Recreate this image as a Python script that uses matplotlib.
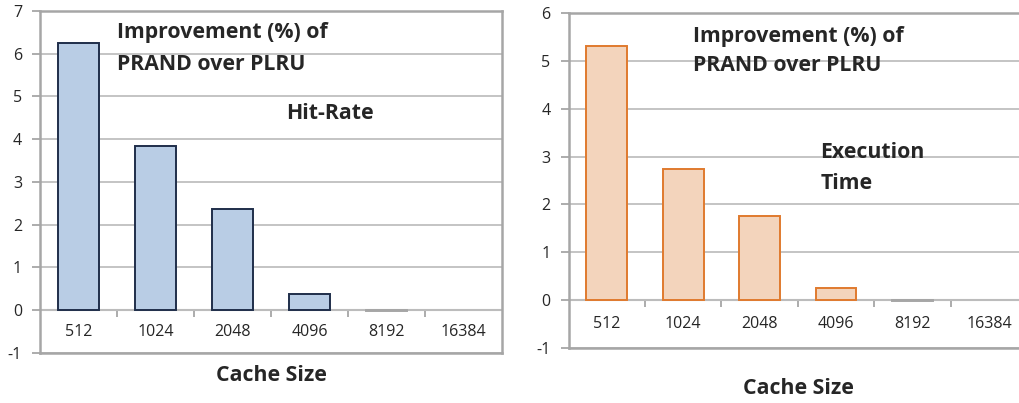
import matplotlib
matplotlib.use("Agg")
import matplotlib.pyplot as plt

# Data
cache_sizes = ["512", "1024", "2048", "4096", "8192", "16384"]
hit_rate_improvement = [6.25, 3.84, 2.36, 0.37, -0.01, 0.0]
exec_time_improvement = [5.31, 2.73, 1.75, 0.26, -0.02, 0.0]

FONT = ["Open Sans", "DejaVu Sans"]
plt.rcParams["font.family"] = FONT
plt.rcParams["axes.unicode_minus"] = False

GRID = "#BFBFBF"
SPINE = "#A6A6A6"
TEXT = "#262626"

fig = plt.figure(figsize=(10.19, 4.03), dpi=100)


def draw_panel(ax, values, ylim, fill, edge, notes, xlabel_y):
    x = list(range(len(cache_sizes)))
    ax.set_xlim(-0.5, len(cache_sizes) - 0.5)
    ax.set_ylim(*ylim)
    ax.set_yticks(range(ylim[0], ylim[1] + 1))
    ax.yaxis.grid(True, color=GRID, linewidth=1.3)
    ax.set_axisbelow(True)
    ax.tick_params(axis="y", length=6, width=1.3, color=SPINE, pad=7,
                   labelsize=11.5, labelcolor=TEXT)
    ax.tick_params(axis="x", length=0, labelbottom=False)
    for s in ax.spines.values():
        s.set_color(SPINE)
        s.set_linewidth(1.8)

    bars = ax.bar(x, values, width=0.53, color=fill, edgecolor=edge,
                  linewidth=1.4, zorder=3)
    for b, v in zip(bars, values):
        if v == 0:
            b.set_linewidth(0)
        elif abs(v) < 0.05:
            b.set_edgecolor("#A6A6A6")

    # zero axis with category-boundary ticks
    zero_pos = (0 - ylim[0]) / (ylim[1] - ylim[0])
    sec = ax.secondary_xaxis(zero_pos)
    sec.set_xticks([i + 0.5 for i in x[:-1]])
    sec.tick_params(direction="out", length=5, width=1.3, color=SPINE,
                    labelbottom=False)
    sec.spines["bottom"].set_color(SPINE)
    sec.spines["bottom"].set_linewidth(1.5)

    for i, lbl in zip(x, cache_sizes):
        ax.text(i, ylim[0] + 0.5, lbl, ha="center", va="center",
                fontsize=11.5, color=TEXT)

    for (tx, ty, s) in notes:
        ax.text(tx, ty, s, transform=ax.transAxes, ha="left", va="center",
                fontsize=15.3, fontweight="bold", color=TEXT)

    ax.text(0.5, xlabel_y, "Cache Size", transform=ax.transAxes,
            ha="center", va="center", fontsize=15.3, fontweight="bold",
            color=TEXT)


ax1 = fig.add_axes([0.0393, 0.1241, 0.4534, 0.8486])
draw_panel(ax1, hit_rate_improvement, (-1, 7), "#B9CDE5", "#1F2E4A",
           [(0.167, 0.936, "Improvement (%) of"),
            (0.167, 0.845, "PRAND over PLRU"),
            (0.533, 0.700, "Hit-Rate")],
           -0.065)

ax2 = fig.add_axes([0.5579, 0.1365, 0.4504, 0.8313])
draw_panel(ax2, exec_time_improvement, (-1, 6), "#F3D4BC", "#E07A2E",
           [(0.271, 0.931, "Improvement (%) of"),
            (0.271, 0.842, "PRAND over PLRU"),
            (0.549, 0.585, "Execution"),
            (0.549, 0.492, "Time")],
           -0.12)

fig.savefig("out.png", dpi=100)
